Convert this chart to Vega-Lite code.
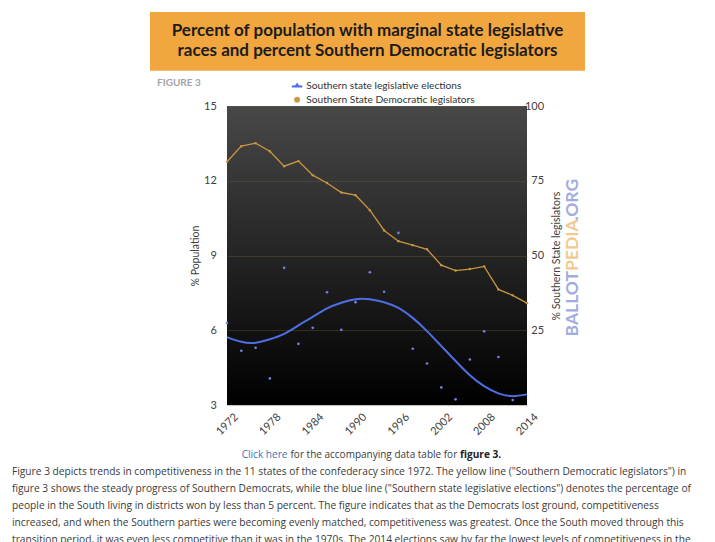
{
  "$schema": "https://vega.github.io/schema/vega-lite/v6.json",
  "padding": {"left": 12, "top": 12, "right": 0, "bottom": 0},
  "autosize": {"type": "pad"},
  "background": "white",
  "config": {"view": {"stroke": null}, "font": "Lato"},
  "datasets": {
    "main": [
      {"year": 1972, "pop": 6.30, "trend": 5.73, "dem": 81.4},
      {"year": 1974, "pop": 5.18, "trend": 5.54, "dem": 86.6},
      {"year": 1976, "pop": 5.30, "trend": 5.50, "dem": 87.6},
      {"year": 1978, "pop": 4.07, "trend": 5.64, "dem": 84.9},
      {"year": 1980, "pop": 8.51, "trend": 5.86, "dem": 79.9},
      {"year": 1982, "pop": 5.46, "trend": 6.20, "dem": 81.6},
      {"year": 1984, "pop": 6.10, "trend": 6.54, "dem": 76.9},
      {"year": 1986, "pop": 7.53, "trend": 6.88, "dem": 74.3},
      {"year": 1988, "pop": 6.02, "trend": 7.11, "dem": 71.1},
      {"year": 1990, "pop": 7.13, "trend": 7.25, "dem": 70.2},
      {"year": 1992, "pop": 8.33, "trend": 7.25, "dem": 65.2},
      {"year": 1994, "pop": 7.55, "trend": 7.13, "dem": 58.4},
      {"year": 1996, "pop": 9.91, "trend": 6.90, "dem": 54.8},
      {"year": 1998, "pop": 5.26, "trend": 6.50, "dem": 53.5},
      {"year": 2000, "pop": 4.67, "trend": 5.97, "dem": 52.1},
      {"year": 2002, "pop": 3.71, "trend": 5.37, "dem": 46.8},
      {"year": 2004, "pop": 3.23, "trend": 4.77, "dem": 45.0},
      {"year": 2006, "pop": 4.83, "trend": 4.20, "dem": 45.5},
      {"year": 2008, "pop": 5.96, "trend": 3.76, "dem": 46.4},
      {"year": 2010, "pop": 4.93, "trend": 3.47, "dem": 38.7},
      {"year": 2012, "pop": 3.20, "trend": 3.36, "dem": 36.7},
      {"year": 2014, "pop": null, "trend": 3.43, "dem": 34.1}
    ]
  },
  "spacing": 6.1,
  "bounds": "full",
  "resolve": {"scale": {"color": "independent"}, "legend": {"color": "independent"}},
  "vconcat": [
    {
      "hconcat": [
        {"width": 138, "height": 58.7, "data": {"values": []}, "mark": "point"},
        {
          "width": 435,
          "height": 58.7,
          "view": {"fill": "#F1A63F", "stroke": null},
          "data": {"values": [{}]},
          "mark": {
            "type": "text",
            "text": ["Percent of population with marginal state legislative", "races and percent Southern Democratic legislators"],
            "font": "Lato", "fontWeight": "bold", "fontSize": 17, "lineHeight": 20,
            "align": "center", "baseline": "top", "dy": -18.5, "color": "#1c1c1c"
          }
        }
      ],
      "spacing": 0,
      "bounds": "flush"
    },
    {
      "hconcat": [
        {"width": 214.7, "height": 299, "data": {"values": []}, "mark": "point"},
        {
          "width": 300,
          "height": 299,
          "title": {
            "text": "FIGURE 3", "orient": "top", "anchor": "start", "frame": "group",
            "dx": -70, "offset": -6.5, "font": "Lato", "fontSize": 10, "fontWeight": "bold", "color": "#a3a3a3"
          },
          "view": {
            "fill": {"gradient": "linear", "x1": 0, "y1": 0, "x2": 0, "y2": 1,
              "stops": [{"offset": 0, "color": "#484848"}, {"offset": 1, "color": "#000000"}]},
            "stroke": null
          },
          "layer": [
            {
              "data": {"name": "main"},
              "encoding": {
                "x": {
                  "field": "year", "type": "quantitative",
                  "scale": {"domain": [1972, 2014], "nice": false, "zero": false},
                  "axis": {
                    "values": [1972, 1978, 1984, 1990, 1996, 2002, 2008, 2014], "format": "d",
                    "labelAngle": -45, "labelAlign": "center", "labelBaseline": "middle", "labelPadding": 19,
                    "labelFlush": false, "labelOverlap": false, "ticks": false, "tickSize": 0, "domain": false,
                    "grid": false, "title": null, "labelFont": "Lato", "labelFontSize": 11, "labelColor": "#404040"
                  }
                }
              },
              "layer": [
                {
                  "mark": {"type": "point", "filled": true, "size": 7, "color": "#7380e0", "opacity": 1},
                  "encoding": {
                    "y": {
                      "field": "pop", "type": "quantitative",
                      "scale": {"domain": [3, 15], "nice": false, "zero": false},
                      "axis": {
                        "orient": "left", "values": [3, 6, 9, 12, 15], "title": "% Population",
                        "titleFont": "Lato", "titleFontSize": 10.5, "titleFontWeight": "normal", "titleColor": "#404040", "titlePadding": 3,
                        "labelFont": "Lato", "labelFontSize": 11, "labelColor": "#404040", "labelPadding": 10.7,
                        "ticks": false, "tickSize": 0, "domain": false,
                        "grid": true, "gridColor": "#6e5d48", "gridOpacity": 0.4, "gridWidth": 1
                      }
                    }
                  }
                },
                {
                  "mark": {"type": "line", "strokeWidth": 2, "interpolate": "natural"},
                  "encoding": {
                    "y": {
                      "field": "trend", "type": "quantitative",
                      "scale": {"domain": [3, 15], "nice": false, "zero": false},
                      "axis": {
                        "orient": "left", "values": [3, 6, 9, 12, 15], "title": "% Population",
                        "titleFont": "Lato", "titleFontSize": 10.5, "titleFontWeight": "normal", "titleColor": "#404040", "titlePadding": 3,
                        "labelFont": "Lato", "labelFontSize": 11, "labelColor": "#404040", "labelPadding": 10.7,
                        "ticks": false, "tickSize": 0, "domain": false,
                        "grid": true, "gridColor": "#6e5d48", "gridOpacity": 0.4, "gridWidth": 1
                      }
                    },
                    "color": {
                      "datum": "Southern state legislative elections",
                      "scale": {
                        "domain": ["Southern state legislative elections", "Southern State Democratic legislators"],
                        "range": ["#4d6fe3", "#c99640"]
                      },
                      "legend": {
                        "orient": "none", "legendX": 65, "legendY": -24.75, "direction": "vertical", "title": null,
                        "padding": 0, "labelFont": "Lato", "labelFontSize": 10.2, "labelColor": "#333333",
                        "labelOffset": 4, "rowPadding": 2.3, "symbolSize": 100, "labelLimit": 300,
                        "encode": {
                          "symbols": {
                            "update": {
                              "shape": {"signal": "datum.value === 'Southern state legislative elections' ? 'M-1,0.15L1,0.15L1,-0.15L0.4,-0.15L0,-0.7L-0.4,-0.15L-1,-0.15Z' : 'circle'"},
                              "size": {"signal": "datum.value === 'Southern state legislative elections' ? 100 : 30"},
                              "fill": {"signal": "datum.value === 'Southern state legislative elections' ? '#4f77e0' : '#f0a640'"},
                              "stroke": {"signal": "datum.value === 'Southern state legislative elections' ? '#4f77e0' : '#f0a640'"},
                              "strokeWidth": {"value": 0.5},
                              "opacity": {"value": 1}
                            }
                          }
                        }
                      }
                    }
                  }
                }
              ]
            },
            {
              "data": {"name": "main"},
              "mark": {"type": "line", "strokeWidth": 1.3, "point": {"filled": true, "size": 6}},
              "encoding": {
                "x": {"field": "year", "type": "quantitative"},
                "y": {
                  "field": "dem", "type": "quantitative",
                  "scale": {"domain": [0, 100], "nice": false, "zero": true},
                  "axis": {
                    "orient": "right", "values": [25, 50, 75, 100], "title": "% Southern State legislators",
                    "titleFont": "Lato", "titleFontSize": 10.5, "titleFontWeight": "normal", "titleColor": "#404040",
                    "titleAngle": 270, "titleBaseline": "top", "titlePadding": 8,
                    "labelFont": "Lato", "labelFontSize": 11, "labelColor": "#404040", "labelAlign": "right", "labelPadding": 16.6,
                    "ticks": false, "tickSize": 0, "domain": false, "grid": false
                  }
                },
                "color": {"datum": "Southern State Democratic legislators"}
              }
            },
            {
              "data": {"values": [{}]},
              "mark": {"type": "text", "text": "BALLOT", "angle": 270, "align": "right", "baseline": "middle",
                "dx": -15.4, "dy": 195.8, "font": "Lato", "fontWeight": "bold", "fontSize": 17.5, "color": "#a2acdf"}
            },
            {
              "data": {"values": [{}]},
              "mark": {"type": "text", "text": "PEDIA", "angle": 270, "align": "left", "baseline": "middle",
                "dx": -15.4, "dy": 195.8, "font": "Lato", "fontWeight": "bold", "fontSize": 17.5, "color": "#f3c98f"}
            },
            {
              "data": {"values": [{}]},
              "mark": {"type": "text", "text": ".ORG", "angle": 270, "align": "left", "baseline": "middle",
                "dx": 35.0, "dy": 195.8, "font": "Lato", "fontWeight": "bold", "fontSize": 17.5, "color": "#a2acdf"}
            }
          ],
          "resolve": {"scale": {"y": "independent"}}
        }
      ],
      "spacing": 0,
      "bounds": "flush",
      "resolve": {"scale": {"color": "independent"}, "legend": {"color": "independent"}}
    },
    {
      "width": 700,
      "height": 99.7,
      "data": {"values": [{}]},
      "layer": [
        {"mark": {"type": "text", "text": "Click here", "align": "right", "baseline": "middle", "dx": -74.5, "dy": -37.85,
          "font": "Open Sans", "fontSize": 10.1, "color": "#3b73ba"}},
        {"mark": {"type": "text", "text": "for the accompanying data table for", "align": "left", "baseline": "middle", "dx": -71.5, "dy": -37.85,
          "font": "Open Sans", "fontSize": 10.0, "color": "#3a3a3a"}},
        {"mark": {"type": "text", "text": "figure 3.", "align": "left", "baseline": "middle", "dx": 98, "dy": -37.85,
          "font": "Open Sans", "fontSize": 10.1, "fontWeight": "bold", "color": "#222222"}},
        {"mark": {
          "type": "text",
          "text": [
            "Figure 3 depicts trends in competitiveness in the 11 states of the confederacy since 1972. The yellow line (\"Southern Democratic legislators\") in",
            "figure 3 shows the steady progress of Southern Democrats, while the blue line (\"Southern state legislative elections\") denotes the percentage of",
            "people in the South living in districts won by less than 5 percent. The figure indicates that as the Democrats lost ground, competitiveness",
            "increased, and when the Southern parties were becoming evenly matched, competitiveness was greatest. Once the South moved through this",
            "transition period, it was even less competitive than it was in the 1970s. The 2014 elections saw by far the lowest levels of competitiveness in the",
            "South."
          ],
          "align": "left", "baseline": "alphabetic", "dx": -350, "dy": -17.6, "lineHeight": 16.8,
          "font": "Open Sans", "fontSize": 10.2, "color": "#3a3a3a", "clip": true
        }}
      ]
    }
  ]
}
